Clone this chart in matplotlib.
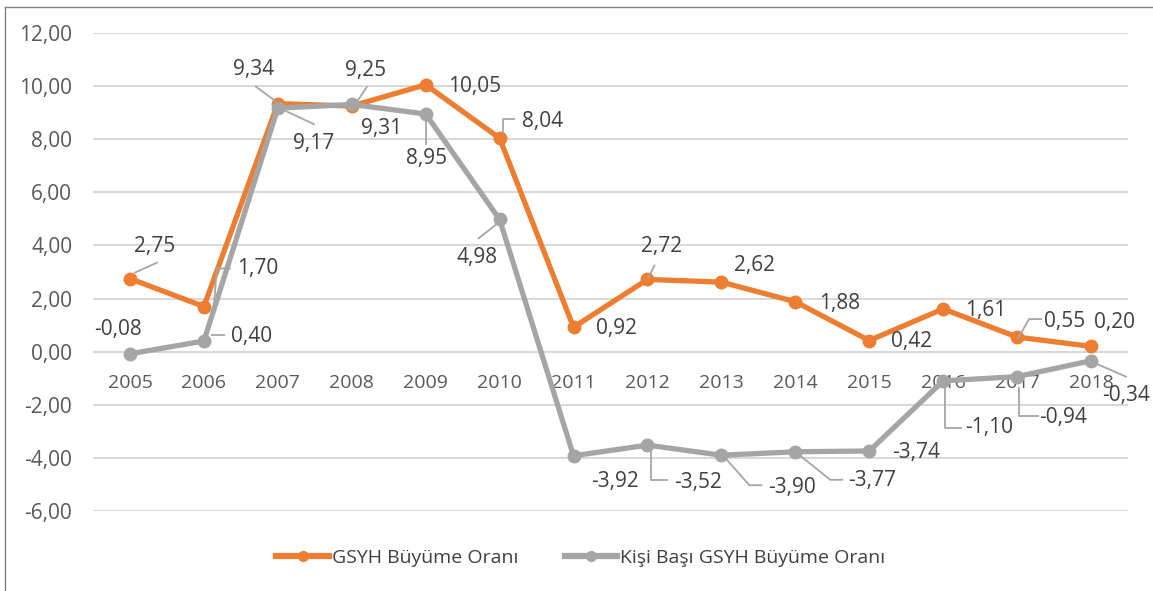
import matplotlib.pyplot as plt
import matplotlib.transforms as mtransforms
from matplotlib.lines import Line2D
import numpy as np

plt.rcParams['font.family'] = ['Open Sans', 'DejaVu Sans']

years = ['2005', '2006', '2007', '2008', '2009', '2010', '2011',
         '2012', '2013', '2014', '2015', '2016', '2017', '2018']
gsyh = [2.75, 1.70, 9.34, 9.25, 10.05, 8.04, 0.92,
        2.72, 2.62, 1.88, 0.42, 1.61, 0.55, 0.20]
kisi = [-0.08, 0.40, 9.17, 9.31, 8.95, 4.98, -3.92,
        -3.52, -3.90, -3.77, -3.74, -1.10, -0.94, -0.34]
yticks = [-6, -4, -2, 0, 2, 4, 6, 8, 10, 12]

orange = '#ED7D31'
gray = '#A5A5A5'
txt = '#404040'

# label offsets in pixels (x right, y down as in the picture) + leader vertices
lab_gsyh = [((25, -32), [(5, -6), (27, -16)]),
            ((54, -38), [(10, -1), (13, -38), (26, -38)]),
            ((-24, -34), [(-3, -3), (-22, -17)]),
            ((14, -36), [(5, -4), (15, -19)]),
            ((49, 2), None),
            ((43, -17), [(3, -5), (3, -19), (14, -19)]),
            ((43, 1), None),
            ((14, -33), [(1, -2), (7, -14)]),
            ((33, -17), None),
            ((44, 2), None),
            ((42, 1), None),
            ((43, 2), None),
            ((48, -16), [(1, 1), (12, -18), (24, -18)]),
            ((23, -24), None)]
lab_kisi = [((-12, -24), None),
            ((48, -5), [(8, -6), (20, -6)]),
            ((36, 35), [(4, 1), (36, 16)]),
            ((30, 24), None),
            ((1, 45), [(0, 3), (0, 30)]),
            ((-23, 38), [(-1, 3), (-21, 19)]),
            ((41, 26), None),
            ((51, 37), [(4, 5), (4, 35), (20, 35)]),
            ((71, 32), [(5, 4), (28, 30), (40, 30)]),
            ((77, 29), [(5, 4), (35, 28), (47, 28)]),
            ((47, 2), None),
            ((46, 47), [(2, 7), (2, 47), (18, 47)]),
            ((46, 41), [(2, 11), (2, 39), (21, 39)]),
            ((35, 35), [(3, 2), (35, 16)])]

fig = plt.figure(figsize=(11.53, 5.91), dpi=100)
ax = fig.add_axes([93 / 1153, 1 - 511 / 591, (1128 - 93) / 1153, (511 - 33) / 591])

x = np.arange(len(years))
ax.set_xlim(-0.5, len(years) - 0.5)
ax.set_ylim(-6, 12)
ax.set_yticks(yticks)
ax.set_yticklabels([('%.2f' % v).replace('.', ',') for v in yticks])
ax.tick_params(axis='y', length=0, pad=15, labelsize=15, labelcolor='#595959')
ax.set_xticks([])
for s in ax.spines.values():
    s.set_visible(False)
ax.grid(axis='y', color='#D9D9D9', linewidth=1.5)
ax.set_axisbelow(True)

ax.plot(x, gsyh, color=orange, lw=3.8, marker='o', ms=9, label='GSYH Büyüme Oranı', zorder=3)
ax.plot(x, kisi, color=gray, lw=3.8, marker='o', ms=9, label='Kişi Başı GSYH Büyüme Oranı', zorder=4)

for i, yr in enumerate(years):
    ax.annotate(yr, (i, 0), xytext=(0, -31), textcoords='offset pixels',
                ha='center', va='center', fontsize=14, color='#595959')

ident = mtransforms.IdentityTransform()
for vals, labs in [(gsyh, lab_gsyh), (kisi, lab_kisi)]:
    for i, v in enumerate(vals):
        (dx, dy), lead = labs[i]
        ax.annotate(('%.2f' % v).replace('.', ','), (i, v), xytext=(dx, -dy),
                    textcoords='offset pixels', ha='center', va='center',
                    fontsize=15, color=txt, zorder=6)
        if lead:
            px, py = ax.transData.transform((i, v))
            xs = [px + a for a, b in lead]
            ys = [py - b for a, b in lead]
            fig.add_artist(Line2D(xs, ys, transform=ident, color='#A6A6A6', lw=1.3, zorder=5))

leg = fig.legend(loc='center', bbox_to_anchor=(581 / 1153, 1 - 558 / 591), ncol=2,
                 frameon=False, fontsize=14, handlelength=2.7, handletextpad=0.15,
                 columnspacing=2.4, labelcolor='#404040')
for h in leg.legend_handles:
    h.set_markersize(7)
    h.set_linewidth(4.5)

# frame around the chart (top and left only)
fig.add_artist(Line2D([5 / 1153, 1], [1 - 7 / 591, 1 - 7 / 591], transform=fig.transFigure, color='#808080', lw=1))
fig.add_artist(Line2D([5 / 1153, 5 / 1153], [0, 1 - 7 / 591], transform=fig.transFigure, color='#808080', lw=1))

fig.savefig('out.png', dpi=100)
